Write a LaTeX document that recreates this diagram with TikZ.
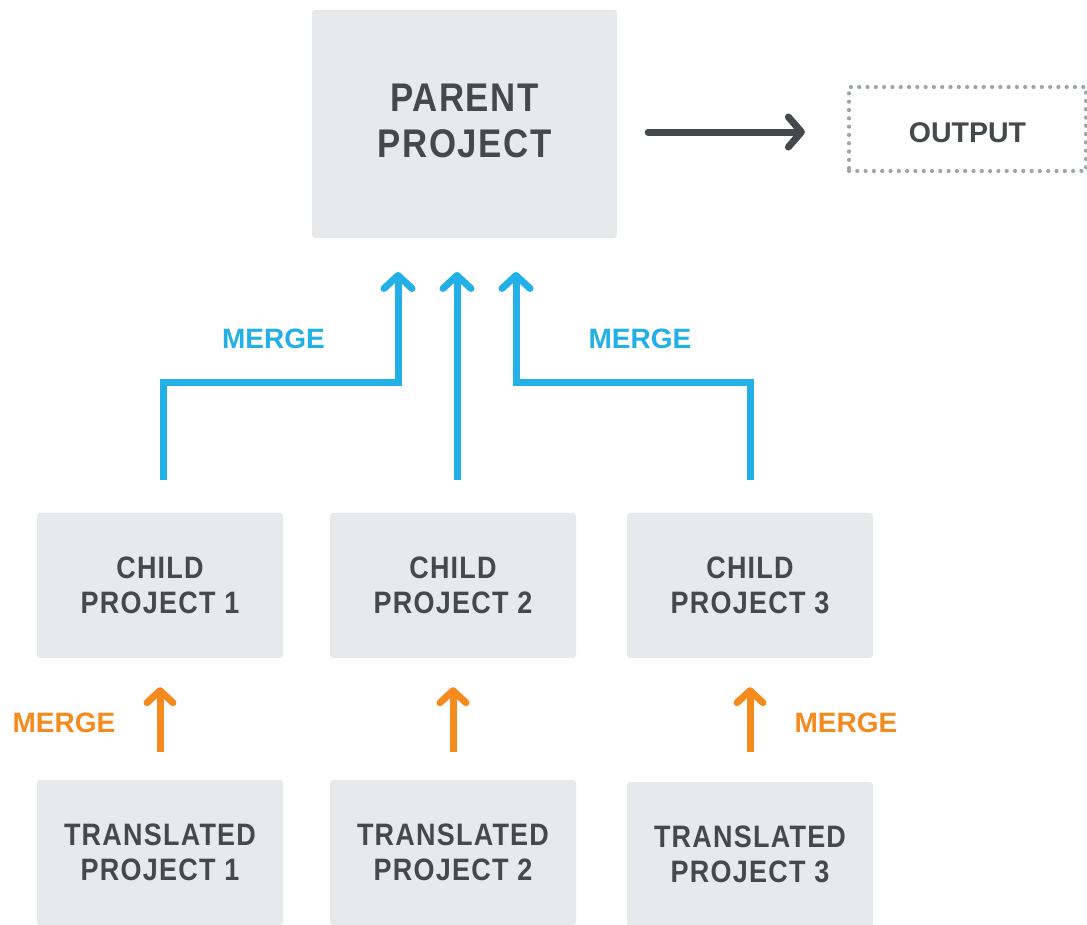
\documentclass[tikz,border=0pt]{standalone}
\usepackage{fontspec}
\setmainfont{Liberation Sans}
\newfontfamily\boxfont{Liberation Sans}[FakeStretch=0.87,LetterSpace=4]
\usetikzlibrary{arrows.meta,calc}
\definecolor{cblue}{HTML}{22B0E6}
\definecolor{corange}{HTML}{F58A1F}
\definecolor{textdark}{HTML}{46494C}
\definecolor{boxgray}{HTML}{E8E9EB}
\definecolor{dotgray}{HTML}{9EA4A9}
\begin{document}
\begin{tikzpicture}[x=1pt,y=-1pt,
  box/.style={fill=boxgray, rounded corners=3pt, minimum width=246pt, minimum height=145pt,
    inner sep=0pt, text=textdark, align=center,
    font=\boxfont\bfseries\fontsize{31}{35.5}\selectfont},
  bigbox/.style={box, minimum width=305pt, minimum height=228pt,
    font=\boxfont\bfseries\fontsize{40}{46}\selectfont},
  outbox/.style={draw=dotgray, dash pattern=on 0pt off 8.3pt, line cap=round, line width=4.2pt,
    minimum width=237pt, minimum height=84pt, inner sep=0pt, text=textdark,
    text height=26.5pt, text depth=0pt,
    font=\bfseries\fontsize{28.5}{34}\selectfont},
  mergelbl/.style={font=\bfseries\fontsize{28}{34}\selectfont, inner sep=0pt},
  bluearrow/.style={draw=cblue, line width=7pt, -{Straight Barb[length=13pt,width=28pt,round]}},
  orangearrow/.style={draw=corange, line width=7pt, -{Straight Barb[length=12pt,width=26pt,round]}},
  darkarrow/.style={draw=textdark, line width=7pt, line cap=round, -{Straight Barb[length=13pt,width=30pt,round]}}
]
\useasboundingbox (0,0) rectangle (1087,924);
\clip (0,0) rectangle (1087,924);

% nodes
\node[bigbox, minimum height=228pt] (parent) at (464.5,124) {};
\node[bigbox, fill=none] (ptext) at (464.5,121) {PARENT\\PROJECT};
\node[outbox] (out) at (967.5,129) {OUTPUT};

\node[box] (c1) at (160,585.5) {CHILD\\PROJECT 1};
\node[box] (c2) at (453,585.5) {CHILD\\PROJECT 2};
\node[box] (c3) at (750,585.5) {CHILD\\PROJECT 3};

\node[box] (tr1) at (160,852.5) {TRANSLATED\\PROJECT 1};
\node[box] (tr2) at (453,852.5) {TRANSLATED\\PROJECT 2};
\node[box] (tr3) at (750,854.5) {TRANSLATED\\PROJECT 3};

% labels
\node[mergelbl, text=cblue] (mb1) at (273.5,339) {MERGE};
\node[mergelbl, text=cblue] (mb2) at (640,339) {MERGE};
\node[mergelbl, text=corange] (mo1) at (64,723) {MERGE};
\node[mergelbl, text=corange] (mo3) at (846,723) {MERGE};

% parent -> output
\draw[darkarrow] ($(parent.east)+(31,8)$) -- ($(out.west)+(-42,3)$);

% blue merges
\coordinate (t1) at (398,272);
\coordinate (t2) at (457,272);
\coordinate (t3) at (516,272);
\coordinate (b1) at (398,382);
\coordinate (b3) at (516,382);
\draw[bluearrow] ([xshift=3pt,yshift=33pt]c1.north) |- (b1) -- (t1);
\draw[bluearrow] ([xshift=4pt,yshift=33pt]c2.north) -- (t2);
\draw[bluearrow] ([yshift=33pt]c3.north) |- (b3) -- (t3);

% orange merges
\draw[orangearrow] ([yshift=28pt]tr1.north) -- ([yshift=-29pt]c1.south);
\draw[orangearrow] ([yshift=28pt]tr2.north) -- ([yshift=-29pt]c2.south);
\draw[orangearrow] ([yshift=30pt]tr3.north) -- ([yshift=-29pt]c3.south);
\end{tikzpicture}
\end{document}
